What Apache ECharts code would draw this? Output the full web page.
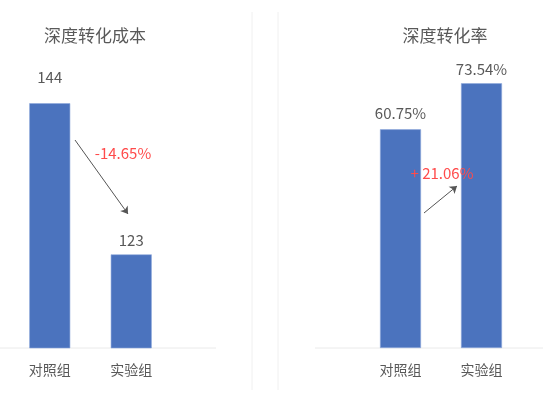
<!DOCTYPE html>
<html>
<head>
<meta charset="utf-8">
<script src="https://cdn.jsdelivr.net/npm/echarts@6/dist/echarts.min.js"></script>
<style>
html,body{margin:0;padding:0;background:#fff;}
#main{width:543px;height:409px;}
</style>
</head>
<body>
<div id="main"></div>
<script>
const categories = ['对照组', '实验组'];
const costValues = [144, 123];
const rateValues = [60.75, 73.54];
const titles = ['深度转化成本', '深度转化率'];
const changeLabels = ['-14.65%', '+ 21.06%'];

const FONT = '"Noto Sans CJK SC", "Noto Sans", sans-serif';
const TEXT = '#595959';
const BAR = '#4B73BE';
const RED = '#FF4B4B';

const costDist = [18, 7];
const rateDist = [9, 6];

const chart = echarts.init(document.getElementById('main'));
chart.setOption({
  animation: false,
  backgroundColor: '#ffffff',
  textStyle: { fontFamily: FONT },
  title: [
    { text: titles[0], left: 90, top: 22, textAlign: 'center',
      textStyle: { fontSize: 17, fontWeight: 'normal', color: TEXT, fontFamily: FONT } },
    { text: titles[1], left: 440, top: 22, textAlign: 'center',
      textStyle: { fontSize: 17, fontWeight: 'normal', color: TEXT, fontFamily: FONT } }
  ],
  grid: [
    { left: 9, width: 163, top: 60, height: 288 },
    { left: 360, width: 162, top: 60, height: 288 }
  ],
  xAxis: [0, 1].map(i => ({
    type: 'category', gridIndex: i, data: categories,
    axisLine: { show: false }, axisTick: { show: false },
    axisLabel: { margin: 15, fontSize: 14, color: TEXT, fontFamily: FONT }
  })),
  yAxis: [
    { type: 'value', gridIndex: 0, min: 110, max: 150, show: false },
    { type: 'value', gridIndex: 1, min: 0, max: 80, show: false }
  ],
  series: [
    {
      type: 'bar', xAxisIndex: 0, yAxisIndex: 0, barWidth: 41,
      itemStyle: { color: BAR, borderColor: '#8EA9DB', borderWidth: 0.6 },
      data: costValues.map((v, i) => ({ value: v, label: { distance: costDist[i] } })),
      label: { show: true, position: 'top', fontSize: 15, color: TEXT, fontFamily: FONT, formatter: '{c}' },
      markLine: {
        silent: true, symbol: ['none', 'arrow'], symbolSize: 7,
        lineStyle: { color: '#555555', width: 1, type: 'solid' },
        label: { show: false },
        data: [[{ x: 75, y: 140 }, { x: 128, y: 214 }]]
      }
    },
    {
      type: 'bar', xAxisIndex: 1, yAxisIndex: 1, barWidth: 41,
      itemStyle: { color: BAR, borderColor: '#8EA9DB', borderWidth: 0.6 },
      data: rateValues.map((v, i) => ({ value: v, label: { distance: rateDist[i] } })),
      label: { show: true, position: 'top', fontSize: 15, color: TEXT, fontFamily: FONT, formatter: '{c}%' },
      markLine: {
        silent: true, symbol: ['none', 'arrow'], symbolSize: 7,
        lineStyle: { color: '#555555', width: 1, type: 'solid' },
        label: { show: false },
        data: [[{ x: 424, y: 213 }, { x: 457, y: 186 }]]
      }
    }
  ],
  graphic: [
    { type: 'line', z: 1, shape: { x1: 0, y1: 348, x2: 216, y2: 348 }, style: { stroke: '#EAEAEA', lineWidth: 1 }, silent: true },
    { type: 'line', z: 1, shape: { x1: 315, y1: 348, x2: 543, y2: 348 }, style: { stroke: '#EAEAEA', lineWidth: 1 }, silent: true },
    { type: 'line', z: 1, shape: { x1: 252, y1: 12, x2: 252, y2: 390 }, style: { stroke: '#F0F0F0', lineWidth: 1 }, silent: true },
    { type: 'line', z: 1, shape: { x1: 278, y1: 12, x2: 278, y2: 390 }, style: { stroke: '#F0F0F0', lineWidth: 1 }, silent: true },
    { type: 'text', z: 100, x: 123, y: 153, style: { text: changeLabels[0], fill: RED, fontSize: 15, fontFamily: FONT, textAlign: 'center', textVerticalAlign: 'middle' }, silent: true },
    { type: 'text', z: 100, x: 442, y: 173, style: { text: changeLabels[1], fill: RED, fontSize: 15, fontFamily: FONT, textAlign: 'center', textVerticalAlign: 'middle' }, silent: true }
  ]
});
</script>
</body>
</html>
